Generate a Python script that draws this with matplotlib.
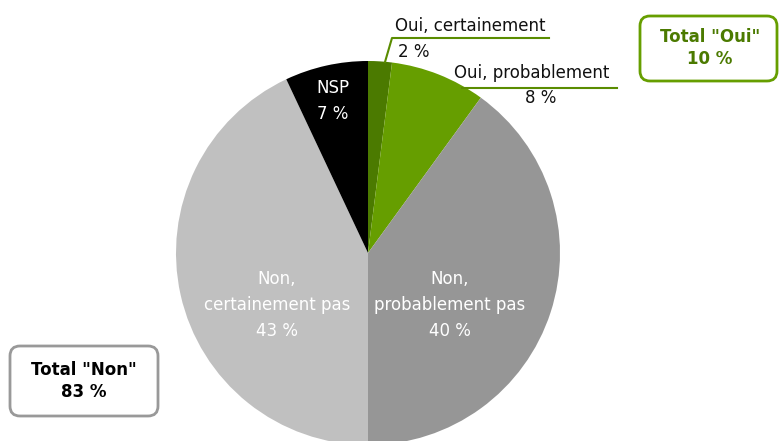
import numpy as np
import matplotlib.pyplot as plt
from matplotlib.patches import FancyBboxPatch

# slices, clockwise from the top
labels = ["Oui, certainement", "Oui, probablement", "Non,\nprobablement pas", "Non,\ncertainement pas", "NSP"]
values = [2, 8, 40, 43, 7]
colors = ["#4b7a00", "#669e00", "#969696", "#c0c0c0", "#000000"]
total_oui = 10
total_non = 83

W, H = 782, 441
fig = plt.figure(figsize=(W / 100, H / 100), dpi=100)
ax = fig.add_axes([0, 0, 1, 1])
ax.axis("off")

font = "DejaVu Sans"
cx, cy, r = 368, H - 253, 192

ax.pie(values, colors=colors, startangle=90, counterclock=False,
       center=(cx, cy), radius=r, wedgeprops=dict(linewidth=0))
ax.set_xlim(0, W)
ax.set_ylim(0, H)
ax.set_aspect("equal")

def pct(v):
    return f"{v} %"

# inside labels
ax.text(333, H - 101, labels[4] + "\n" + pct(values[4]), color="white", ha="center", va="center",
        fontsize=12, family=font, linespacing=1.6)
ax.text(277, H - 305, labels[3] + "\n" + pct(values[3]), color="white", ha="center", va="center",
        fontsize=12, family=font, linespacing=1.55)
ax.text(450, H - 305, labels[2] + "\n" + pct(values[2]), color="white", ha="center", va="center",
        fontsize=12, family=font, linespacing=1.55)

# outside labels with leader lines
line_c = "#5a8c00"
ax.plot([385, 392, 549], [H - 62, H - 38, H - 38], color=line_c, lw=1.5)
ax.text(470, H - 26, labels[0], ha="center", va="center", fontsize=12, family=font, color="#111111")
ax.text(414, H - 52, pct(values[0]), ha="center", va="center", fontsize=12, family=font, color="#111111")
ax.plot([462, 617], [H - 88, H - 88], color=line_c, lw=1.5)
ax.text(532, H - 73, labels[1], ha="center", va="center", fontsize=12, family=font, color="#111111")
ax.text(541, H - 98, pct(values[1]), ha="center", va="center", fontsize=12, family=font, color="#111111")

# total boxes
box = FancyBboxPatch((640, H - 81), 137, 65, boxstyle="round,pad=0,rounding_size=10",
                     fc="white", ec="#669e00", lw=2)
ax.add_patch(box)
ax.text(710, H - 48, f'Total "Oui"\n{total_oui} %', ha="center", va="center", fontsize=12,
        fontweight="bold", family=font, color="#4b7a00", linespacing=1.3)

box = FancyBboxPatch((10, H - 416), 148, 70, boxstyle="round,pad=0,rounding_size=10",
                     fc="white", ec="#999999", lw=2)
ax.add_patch(box)
ax.text(84, H - 381, f'Total "Non"\n{total_non} %', ha="center", va="center", fontsize=12,
        fontweight="bold", family=font, color="black", linespacing=1.3)

fig.savefig("out.png", dpi=100)
